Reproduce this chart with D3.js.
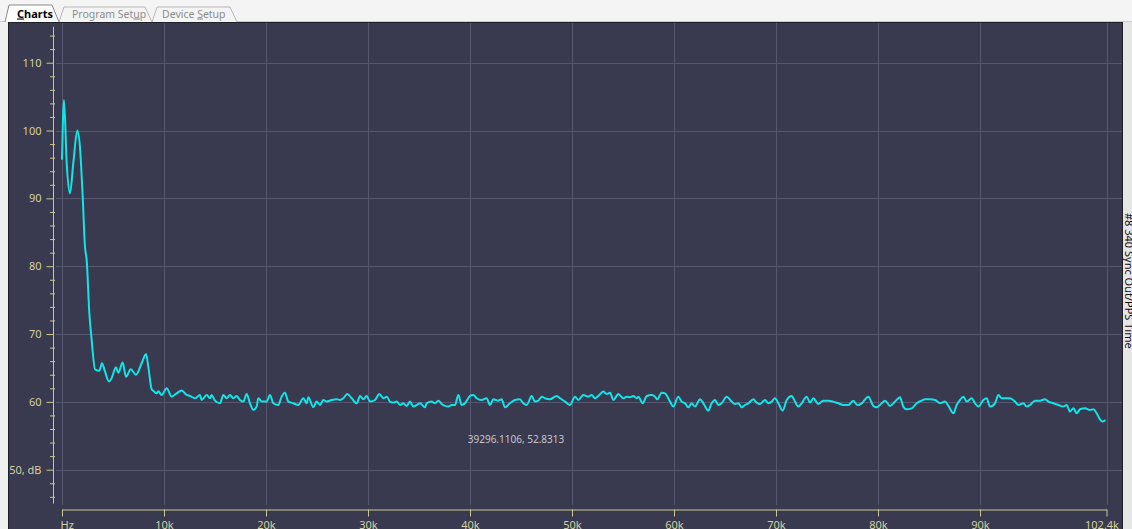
<!DOCTYPE html>
<html><head><meta charset="utf-8">
<script src="https://cdn.jsdelivr.net/npm/d3@7"></script>
<style>html,body{margin:0;padding:0;background:#f0f0f0;overflow:hidden}svg{display:block}</style>
</head><body>
<svg id="c" width="1132" height="529"></svg>
<script>
// ---- data (frequency in kHz, level in dB) ----
const freqKHz = [0,0.196,0.46,0.78,1.11,1.50,1.76,2.03,2.25,2.42,2.68,2.91,3.24,3.66,3.92,4.22,4.61,4.87,5.29,5.52,5.95,6.27,6.74,7.25,7.81,8.24,8.46,8.79,
8.95,9.28,9.44,9.77,10.26,10.75,11.24,11.73,12.22,12.55,13.04,13.53,13.69,14.18,14.51,14.67,15.0,15.49,15.82,16.14,16.47,16.80,17.12,17.45,17.78,18.10,18.43,18.76,19.08,19.25,19.58,
20.07,20.39,20.72,21.21,21.53,21.86,22.19,22.68,23.17,23.66,23.99,24.15,24.64,24.97,25.29,25.62,25.95,26.44,26.93,27.26,27.58,27.97,28.40,28.89,29.22,29.54,29.87,
30.20,30.69,31.11,31.50,31.83,32.16,32.48,32.81,33.14,33.46,33.79,34.12,34.44,34.77,35.10,35.59,35.75,36.24,36.57,36.90,37.22,37.55,37.88,38.20,38.53,38.86,39.18,39.51,
40.0,40.33,40.65,41.14,41.63,41.96,42.29,42.78,43.10,43.43,43.92,44.41,44.90,45.23,45.56,46.05,46.37,46.70,47.03,47.35,47.84,48.50,48.82,49.31,49.80,
50.29,50.62,51.11,51.60,51.93,52.25,52.58,53.07,53.40,53.73,54.05,54.54,55.03,55.36,55.69,56.01,56.34,56.50,56.93,57.32,57.81,58.14,58.37,58.79,59.12,59.61,59.93,
60.42,60.75,61.08,61.41,61.73,62.06,62.55,62.88,63.37,63.69,64.02,64.35,64.67,65.16,65.65,65.98,66.31,66.63,66.96,67.29,67.78,68.10,68.43,68.92,69.25,69.58,69.90,
70.23,70.65,71.05,71.54,71.86,72.19,72.52,73.01,73.33,73.66,74.15,74.64,75.13,75.62,76.11,76.60,77.09,77.58,77.97,78.40,79.05,79.54,79.87,
80.36,80.69,81.18,81.67,82.16,82.48,82.81,83.30,83.79,84.28,84.61,85.10,85.59,86.08,86.57,86.90,87.39,87.71,88.04,88.37,88.69,89.18,89.51,89.84,
90.33,90.65,90.98,91.47,91.80,92.12,92.61,92.94,93.43,93.76,94.25,94.57,94.90,95.39,95.88,96.37,96.70,97.19,97.68,98.17,98.50,98.82,99.15,99.48,99.80,
100.29,100.78,101.11,101.44,101.76,102.0,102.3];
const levelDb = [95.7,104.5,95.2,90.75,95.2,100.0,97.6,90.25,82.9,80.9,73.1,69.1,64.8,64.6,65.7,64.45,63.0,63.5,65.1,64.3,65.8,63.7,64.8,64.0,65.7,67.06,65.2,61.86,
61.65,61.26,61.56,61.02,62.0,60.77,61.26,61.66,61.02,60.87,60.53,61.02,60.28,61.02,60.53,61.02,60.18,59.79,61.02,60.53,61.02,60.53,60.87,60.28,60.04,61.17,59.79,58.81,59.30,60.53,60.04,
60.04,61.02,59.79,59.54,60.77,61.36,60.04,59.79,59.54,60.53,59.79,60.67,59.20,60.04,59.54,60.28,60.04,60.28,60.38,60.28,60.53,61.17,60.53,59.79,60.87,60.38,60.87,
60.04,60.28,61.17,60.53,60.77,60.04,59.89,60.04,59.54,59.79,59.40,60.04,59.30,59.54,59.79,59.20,59.79,60.04,59.79,60.18,59.69,59.40,59.30,59.54,59.54,61.02,59.54,59.79,
60.87,61.02,60.53,60.28,60.53,59.54,60.38,60.18,60.38,59.20,59.79,60.28,60.38,59.79,59.54,60.87,60.04,60.18,60.77,60.53,60.38,60.87,60.53,60.04,59.54,
60.77,60.28,61.02,60.77,61.02,60.53,60.87,61.51,61.17,61.36,60.28,61.17,60.53,60.77,60.67,60.87,60.53,60.77,59.79,60.87,61.02,60.77,60.38,61.36,61.26,60.04,59.30,
60.77,60.04,59.79,59.20,59.79,59.30,60.38,59.79,58.71,59.79,60.28,59.54,59.79,60.77,60.04,59.69,59.79,59.20,59.54,59.79,60.38,59.89,59.69,60.28,59.79,60.04,60.53,
59.79,58.71,60.28,60.87,60.04,59.30,59.79,60.77,59.89,60.53,59.69,60.18,60.18,60.04,59.79,59.54,59.54,60.18,59.54,59.79,60.77,59.40,59.20,
59.79,60.18,59.40,60.04,60.67,59.30,58.91,59.05,59.79,60.18,60.38,60.38,60.28,59.79,60.04,59.40,58.32,59.54,60.28,60.77,60.04,60.53,59.79,59.30,
60.28,60.53,59.30,59.79,61.02,60.53,60.53,60.53,60.04,59.54,59.79,59.30,59.54,60.18,60.18,60.38,60.04,59.79,59.54,59.30,59.54,58.56,59.05,58.32,58.91,
59.05,58.81,58.91,58.32,57.43,57.1,57.3];

const xTickValues = [0,10,20,30,40,50,60,70,80,90,102.4];
const xTickLabels = ["Hz","10k","20k","30k","40k","50k","60k","70k","80k","90k","102.4k"];
const yMajorTicks = [50,60,70,80,90,100,110];
const yTickLabels = ["50, dB","60","70","80","90","100","110"];
const yMinorTicks = [46,48,52,54,56,58,62,64,66,68,72,74,76,78,82,84,86,88,92,94,96,98,102,104,106,108,112,114];
const tabNames = [["","C","harts"],["Program Set","u","p"],["Device ","S","etup"]];
const readoutText = "39296.1106, 52.8313";
const sideTitle = "#8 340  Sync Out/PPS Time";

// ---- drawing ----
const FONT = "'Noto Sans', 'Open Sans', sans-serif";
const svg = d3.select("#c");
const x = d3.scaleLinear().domain([0, 102.4]).range([62, 1106.5]);
const y = d3.scaleLinear().domain([50, 110]).range([469.7, 62.7]);

svg.append("rect").attr("width",1132).attr("height",529).attr("fill","#f0f0f0");
// tab strip
svg.append("rect").attr("x",0).attr("y",0).attr("width",1132).attr("height",21).attr("fill","#f4f4f4");
svg.append("line").attr("x1",0).attr("x2",1132).attr("y1",21.5).attr("y2",21.5).attr("stroke","#c9c9cf");

// tabs
const tabShapes = [
  {pts:[[5,22],[9,5],[52,5],[59,22]], sel:true, tx:17},
  {pts:[[59,22],[64,7],[145,7],[152,22]], sel:false, tx:72},
  {pts:[[152,22],[157,7],[230,7],[237,22]], sel:false, tx:162}
];
tabShapes.slice().reverse().forEach((t,ri)=>{
  const i = tabShapes.length-1-ri;
  svg.append("path").attr("d", d3.line()(t.pts))
    .attr("fill", t.sel ? "#ffffff" : "#f4f4f4")
    .attr("stroke", t.sel ? "#8a8a8a" : "#b8b8b8").attr("stroke-width",1);
  const tx = svg.append("text").attr("x",t.tx).attr("y",17.5)
    .attr("font-family",FONT).attr("font-size", t.sel ? 11 : 10.5)
    .attr("font-weight", t.sel ? "bold" : "normal")
    .attr("fill", t.sel ? "#000" : "#8c8c8c");
  tabNames[i].forEach((s,k)=>{ if(s) tx.append("tspan").text(s).attr("text-decoration", k===1 ? "underline" : null); });
});

// right strip with vertical title
svg.append("rect").attr("x",1123).attr("y",22).attr("width",9).attr("height",507).attr("fill","#e6e6e6");
svg.append("text").attr("transform","translate(1124.5,213) rotate(90)")
  .attr("font-family",FONT).attr("font-size",11).attr("fill","#111").text(sideTitle);

// panel
svg.append("rect").attr("x",8.5).attr("y",22.5).attr("width",1114).attr("height",512)
  .attr("fill","#393950").attr("stroke","#1f1f2a");

// grid
svg.append("g").selectAll("line").data(xTickValues).join("line")
  .attr("x1",d=>Math.round(x(d))+0.5).attr("x2",d=>Math.round(x(d))+0.5)
  .attr("y1",23).attr("y2",505).attr("stroke","#56566e").attr("stroke-width",1);
svg.append("g").selectAll("line").data(yMajorTicks).join("line")
  .attr("x1",56).attr("x2",1122).attr("y1",d=>Math.round(y(d))+0.5).attr("y2",d=>Math.round(y(d))+0.5)
  .attr("stroke","#56566e").attr("stroke-width",1);

// y axis
const axisCol = "#c9c98c", labelCol = "#d2d29c";
svg.append("line").attr("x1",53.5).attr("x2",53.5).attr("y1",y(115.3)).attr("y2",y(45.0)).attr("stroke",axisCol);
const gyMinor = svg.append("g").attr("transform","translate(50,0)")
  .call(d3.axisRight(y).tickValues(yMinorTicks).tickSize(5).tickFormat(""));
gyMinor.select(".domain").remove();
gyMinor.selectAll("line").attr("stroke",axisCol);
const gy = svg.append("g").attr("transform","translate(53.5,0)")
  .call(d3.axisLeft(y).tickValues(yMajorTicks).tickSize(7).tickPadding(5).tickFormat((d,i)=>yTickLabels[i]));
gy.select(".domain").remove();
gy.selectAll("line").attr("stroke",axisCol);
gy.selectAll("text").attr("fill",labelCol).attr("font-family",FONT).attr("font-size",11);

// x axis
const gx = svg.append("g").attr("transform","translate(0,509.5)")
  .call(d3.axisBottom(x).tickValues(xTickValues).tickSize(7).tickSizeOuter(0).tickFormat((d,i)=>xTickLabels[i]));
gx.select(".domain").attr("stroke",axisCol);
gx.selectAll("line").attr("stroke",axisCol);
gx.selectAll("text").attr("fill",labelCol).attr("font-family",FONT).attr("font-size",11)
  .attr("y",19).attr("dy","0")
  .attr("text-anchor",(d,i)=> i===0 ? "start" : "middle")
  .attr("x",(d,i)=> i===0 ? -2 : (i===xTickValues.length-1 ? -5 : 0));

// clip + line
svg.append("clipPath").attr("id","pc").append("rect").attr("x",9).attr("y",23).attr("width",1113).attr("height",485);
const pts = freqKHz.map((f,i)=>({f, v: levelDb[i]}));
svg.append("path").datum(pts).attr("clip-path","url(#pc)")
  .attr("fill","none").attr("stroke","#10e6e8").attr("stroke-width",2).attr("stroke-linejoin","round")
  .attr("d", d3.line().x(d=>x(d.f)).y(d=>y(d.v)).curve(d3.curveMonotoneX));

// readout
svg.append("text").attr("x",516).attr("y",443).attr("text-anchor","middle")
  .attr("font-family",FONT).attr("font-size",10).attr("fill","#c6c6cf").text(readoutText);
</script>
</body></html>
